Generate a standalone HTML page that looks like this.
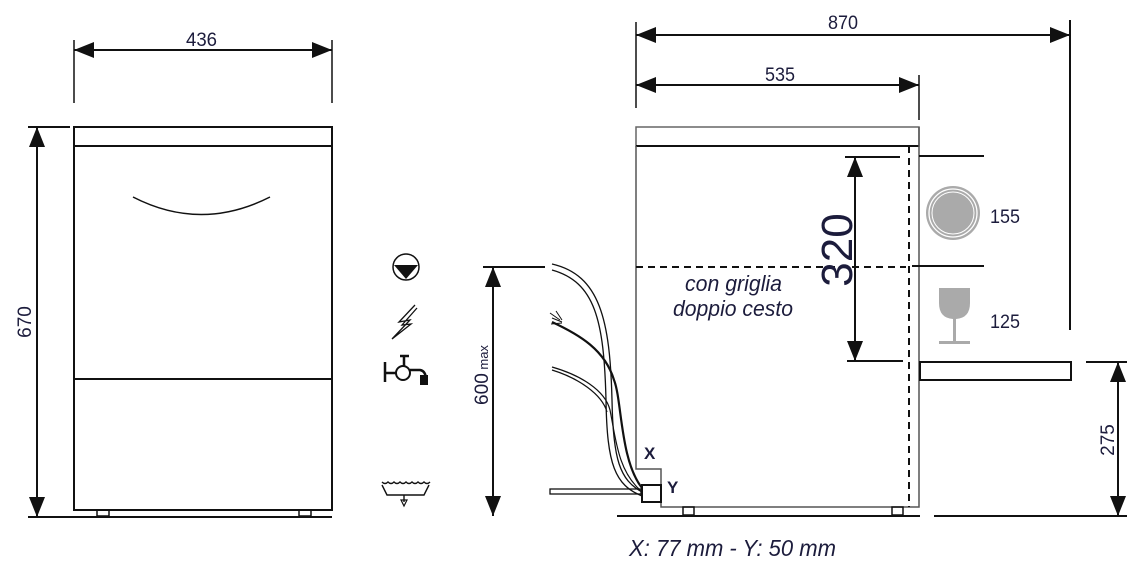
<!DOCTYPE html>
<html><head><meta charset="utf-8"><style>
html,body{margin:0;padding:0;background:#fff;}
svg{display:block}
text{font-family:"Liberation Sans Narrow","Liberation Sans",sans-serif;fill:#1c1c3c}
</style></head><body>
<svg width="1142" height="572" viewBox="0 0 1142 572" xmlns="http://www.w3.org/2000/svg">
<defs>
<marker id="a" viewBox="0 0 20 16" refX="20" refY="8" markerWidth="20" markerHeight="16" markerUnits="userSpaceOnUse" orient="auto"><path d="M0,0L20,8L0,16Z" fill="#111"/></marker>
<marker id="b" viewBox="0 0 20 16" refX="0" refY="8" markerWidth="20" markerHeight="16" markerUnits="userSpaceOnUse" orient="auto"><path d="M20,0L0,8L20,16Z" fill="#111"/></marker>
</defs>
<g stroke="#111" stroke-width="2" fill="none">
<rect x="74" y="127" width="258" height="383"/>
<line x1="74" y1="146" x2="332" y2="146"/>
<line x1="74" y1="379" x2="332" y2="379"/>
<path d="M133,197 Q201,232 270,197" stroke-width="1.5"/>
<rect x="97" y="510" width="12" height="6" stroke-width="1.5"/>
<rect x="299" y="510" width="12" height="6" stroke-width="1.5"/>
<line x1="74" y1="40" x2="74" y2="103" stroke-width="1.5"/>
<line x1="332" y1="40" x2="332" y2="103" stroke-width="1.5"/>
<line x1="74" y1="50" x2="332" y2="50" marker-start="url(#b)" marker-end="url(#a)"/>
<line x1="28" y1="127" x2="70" y2="127"/>
<line x1="28" y1="517" x2="332" y2="517"/>
<line x1="37" y1="127" x2="37" y2="517" marker-start="url(#b)" marker-end="url(#a)"/>
<rect x="636" y="127" width="283" height="19" stroke="#666" stroke-width="1.5"/>
<line x1="636" y1="146" x2="919" y2="146"/>
<path d="M636,146 V469 H661 V507 H919 V127" stroke="#555" stroke-width="1.5"/>
<rect x="642" y="485" width="19" height="17"/>
<rect x="683" y="507" width="11" height="8" stroke-width="1.5"/>
<rect x="892" y="507" width="11" height="8" stroke-width="1.5"/>
<line x1="617" y1="516" x2="920" y2="516"/>
<line x1="934" y1="516" x2="1127" y2="516"/>
<line x1="909" y1="146" x2="909" y2="507" stroke-dasharray="7,5"/>
<line x1="636" y1="267" x2="906" y2="267" stroke-dasharray="7,5"/>
<line x1="912" y1="266" x2="984" y2="266"/>
<line x1="919" y1="156" x2="984" y2="156"/>
<line x1="845" y1="157" x2="900" y2="157"/>
<line x1="847" y1="361" x2="903" y2="361"/>
<line x1="855" y1="157" x2="855" y2="361" marker-start="url(#b)" marker-end="url(#a)"/>
<rect x="920" y="362" width="151" height="18"/>
<line x1="1070" y1="20" x2="1070" y2="330"/>
<line x1="636" y1="22" x2="636" y2="108" stroke-width="1.5"/>
<line x1="919" y1="75" x2="919" y2="120" stroke-width="1.5"/>
<line x1="636" y1="35" x2="1070" y2="35" marker-start="url(#b)" marker-end="url(#a)"/>
<line x1="636" y1="85" x2="919" y2="85" marker-start="url(#b)" marker-end="url(#a)"/>
<line x1="1086" y1="362" x2="1127" y2="362"/>
<line x1="1118" y1="362" x2="1118" y2="516" marker-start="url(#b)" marker-end="url(#a)"/>
<line x1="483" y1="267" x2="545" y2="267"/>
<line x1="493" y1="267" x2="493" y2="516" marker-start="url(#b)" marker-end="url(#a)"/>
<!-- hoses -->
<path d="M552,264 C600,275 610,320 612,400 C613,460 620,480 642,492" stroke-width="1.3"/>
<path d="M552,270 C595,282 604,320 606,400 C607,465 615,485 642,496" stroke-width="1.3"/>
<path d="M552,322 C580,335 605,350 614,380 C622,400 620,460 642,488" stroke-width="2.2"/>
<path d="M552,367 C580,375 605,390 610,410 C616,440 618,470 640,490" stroke-width="1.2"/>
<path d="M552,370 C578,378 602,394 607,412" stroke-width="1.2"/>
<path d="M550,313 L560,320 M552,318 L562,322 M551,324 L562,323 M556,311 L562,320" stroke-width="1"/>
<rect x="550" y="489" width="91" height="5" stroke-width="1.3"/>
<!-- icons -->
<circle cx="406" cy="267" r="13" stroke-width="1.5"/>
<path d="M394,265 H418 L406,279 Z" fill="#111" stroke="none"/>
<path d="M415,305 L399,322 L410,320 L392,339 L411,324 L402,325 L417,308" stroke-width="1.3"/>
<path d="M385,362 V382 M385,373 H397 M400,356 H409 M404,356 V366 M410,370 H420 Q426,371 426,380" stroke-width="2.5"/>
<circle cx="403" cy="373" r="7" stroke-width="2"/>
<rect x="421" y="376" width="6" height="8" fill="#111"/>
<path d="M382,485 L387,495 H424 L429,485 M382,482 q3,3 6,0 q3,3 6,0 q3,3 6,0 q3,3 6,0 q3,3 6,0 q3,3 6,0 q3,3 6,0 q3,3 6,0 M404,495 V502" stroke-width="1.4"/>
<path d="M401,500 L404,506 L407,500 Z" stroke-width="1.2"/>
</g>
<circle cx="953" cy="213" r="27" fill="#aaa"/>
<circle cx="953" cy="213" r="24" fill="none" stroke="#fff" stroke-width="1.3"/>
<circle cx="953" cy="213" r="21" fill="none" stroke="#fff" stroke-width="1"/>
<path d="M939,288 H970 V303 Q970,318 956,319 V341 H970 V344 H939 V341 H953 V319 Q939,318 939,303 Z" fill="#aaa"/>
<text x="186" y="46" font-size="19" textLength="31" lengthAdjust="spacingAndGlyphs">436</text>
<text x="31" y="322" font-size="19" text-anchor="middle" transform="rotate(-90 31 322)">670</text>
<text x="828" y="29" font-size="19" textLength="30" lengthAdjust="spacingAndGlyphs">870</text>
<text x="765" y="81" font-size="19" textLength="30" lengthAdjust="spacingAndGlyphs">535</text>
<text x="852" y="250" font-size="44" text-anchor="middle" transform="rotate(-90 852 250)">320</text>
<text x="990" y="223" font-size="19" textLength="30" lengthAdjust="spacingAndGlyphs">155</text>
<text x="990" y="328" font-size="19" textLength="30" lengthAdjust="spacingAndGlyphs">125</text>
<text x="1114" y="440" font-size="19" text-anchor="middle" transform="rotate(-90 1114 440)">275</text>
<text x="488" y="375" font-size="19" text-anchor="middle" transform="rotate(-90 488 375)">600<tspan font-size="13"> max</tspan></text>
<text x="685" y="291" font-size="22" font-style="italic" textLength="97" lengthAdjust="spacingAndGlyphs">con griglia</text>
<text x="673" y="316" font-size="22" font-style="italic" textLength="120" lengthAdjust="spacingAndGlyphs">doppio cesto</text>
<text x="644" y="459" font-size="17" font-weight="bold">X</text>
<text x="667" y="493" font-size="17" font-weight="bold">Y</text>
<text x="629" y="556" font-size="23" font-style="italic" textLength="207" lengthAdjust="spacingAndGlyphs">X: 77 mm - Y: 50 mm</text>
</svg>
</body></html>
